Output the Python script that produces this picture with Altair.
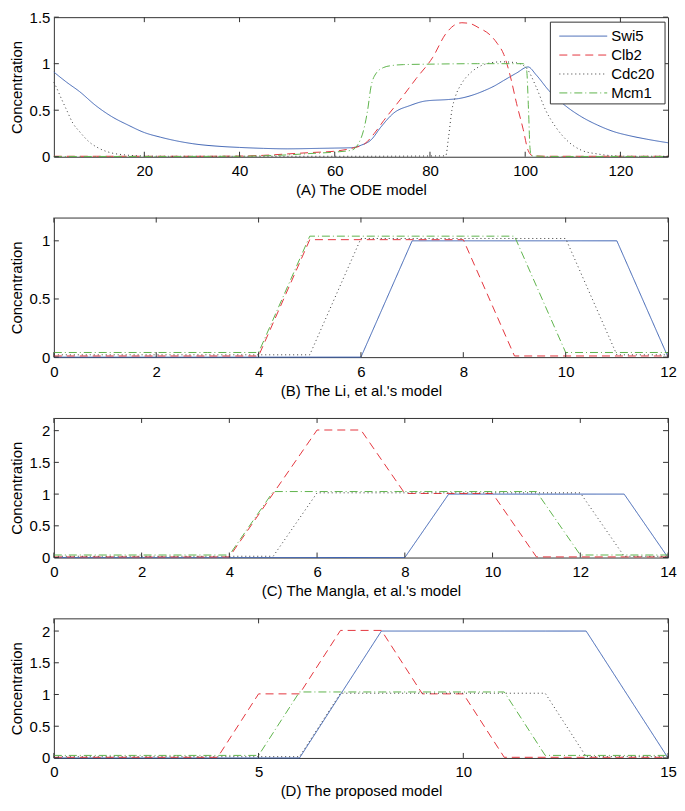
import altair as alt
import pandas as pd

FONT = "Liberation Sans"
BOX = "#333333"
W, H = 616, 140

SERIES = ["Swi5", "Clb2", "Cdc20", "Mcm1"]
COLORS = ["#3d62b3", "#e4363e", "#3a3a3a", "#5fb44c"]
DASHES = [[1, 0], [8, 5], [1, 3], [8, 3, 1, 3]]

# ---------------- (A) The ODE model ----------------
a_swi5_t = [1, 3.7, 6.4, 9.8, 13.2, 16.6, 20, 23.4, 26.8, 30.2, 36.3, 40, 45, 50, 56.7, 60, 63.5,
            65.6, 67.6, 69.7, 72.4, 75.8, 79.2, 83.9, 86, 89.4, 91.4, 93.5, 95.5, 98.2, 100.6,
            102.3, 105, 108.4, 111.8, 115.2, 118.6, 122, 125.4, 130]
a_swi5_v = [0.91, 0.80, 0.70, 0.55, 0.43, 0.34, 0.26, 0.21, 0.17, 0.14, 0.11, 0.10, 0.09, 0.085, 0.09,
            0.093, 0.097, 0.125, 0.18, 0.32, 0.47, 0.55, 0.60, 0.615, 0.625, 0.67, 0.71, 0.76, 0.82,
            0.90, 0.965, 0.88, 0.71, 0.55, 0.43, 0.34, 0.27, 0.225, 0.19, 0.15]

a_clb2_t = [1, 10, 20, 30, 40, 45, 50, 55, 60.1, 63.5, 66.3, 68.3, 70.3, 73.7, 77.1, 80.6, 83.3,
            85.3, 86.7, 88.5, 90.1, 92.8, 94.1, 95.5, 96.9, 98.2, 99.6, 100.6, 101.6, 105, 110, 120, 130]
a_clb2_v = [0.005, 0.005, 0.005, 0.005, 0.007, 0.015, 0.03, 0.045, 0.06, 0.09, 0.14, 0.25, 0.39, 0.61,
            0.84, 1.07, 1.32, 1.42, 1.44, 1.43, 1.39, 1.30, 1.22, 1.10, 0.86, 0.57, 0.29, 0.07, 0.01,
            0.005, 0.005, 0.005, 0.005]

a_cdc20_t = [1, 1.3, 2.7, 3.7, 5, 6.4, 8.4, 10.5, 13.2, 15.9, 18.6, 25, 40, 60, 80, 83.3, 83.9, 84.6,
             85.3, 86.7, 88.7, 90.8, 92.8, 95, 98.2, 100.3, 102.3, 104.3, 106.4, 109.1, 111.8, 115.2,
             118.6, 122, 130]
a_cdc20_v = [0.80, 0.77, 0.61, 0.50, 0.36, 0.27, 0.16, 0.09, 0.04, 0.02, 0.01, 0.005, 0.005, 0.005,
             0.008, 0.01, 0.21, 0.50, 0.64, 0.79, 0.91, 0.98, 1.01, 1.02, 1.01, 0.95, 0.75, 0.50, 0.32,
             0.16, 0.07, 0.03, 0.01, 0.005, 0.005]

a_mcm1_t = [1, 20, 40, 45, 50, 55, 60, 63.5, 65.6, 66.9, 67.6, 68.6, 70.3, 72, 74.4, 80, 90, 99.6,
            100.3, 100.7, 101.0, 101.3, 105, 130]
a_mcm1_v = [0.003, 0.003, 0.005, 0.01, 0.02, 0.035, 0.05, 0.07, 0.21, 0.50, 0.75, 0.89, 0.96, 0.98,
            0.99, 0.995, 1.0, 1.0, 0.93, 0.50, 0.10, 0.01, 0.003, 0.003]

# ---------------- (B) The Li, et al.'s model ----------------
b_t = list(range(0, 13))
b_swi5 = [0, 0, 0, 0, 0, 0, 0, 1, 1, 1, 1, 1, 0]
b_clb2 = [0.01, 0.01, 0.01, 0.01, 0.01, 1.01, 1.01, 1.01, 1.01, 0.01, 0.01, 0.01, 0.01]
b_cdc20 = [0.02, 0.02, 0.02, 0.02, 0.02, 0.02, 1.02, 1.02, 1.02, 1.02, 1.02, 0.02, 0.02]
b_mcm1 = [0.04, 0.04, 0.04, 0.04, 0.04, 1.04, 1.04, 1.04, 1.04, 1.04, 0.04, 0.04, 0.04]

# ---------------- (C) The Mangla, et al.'s model ----------------
c_t = list(range(0, 15))
c_swi5 = [0, 0, 0, 0, 0, 0, 0, 0, 0, 1, 1, 1, 1, 1, 0]
c_clb2 = [0.01, 0.01, 0.01, 0.01, 0.01, 1.01, 2.01, 2.01, 1.01, 1.01, 1.01, 0.01, 0.01, 0.01, 0.01]
c_cdc20 = [0.02, 0.02, 0.02, 0.02, 0.02, 0.02, 1.02, 1.02, 1.02, 1.02, 1.02, 1.02, 1.02, 0.02, 0.02]
c_mcm1 = [0.04, 0.04, 0.04, 0.04, 0.04, 1.04, 1.04, 1.04, 1.04, 1.04, 1.04, 1.04, 0.04, 0.04, 0.04]

# ---------------- (D) The proposed model ----------------
d_t = list(range(0, 16))
d_swi5 = [0, 0, 0, 0, 0, 0, 0, 1, 2, 2, 2, 2, 2, 2, 1, 0]
d_clb2 = [0.01, 0.01, 0.01, 0.01, 0.01, 1.01, 1.01, 2.01, 2.01, 1.01, 1.01, 0.01, 0.01, 0.01, 0.01, 0.01]
d_cdc20 = [0.02, 0.02, 0.02, 0.02, 0.02, 0.02, 0.02, 1.02, 1.02, 1.02, 1.02, 1.02, 1.02, 0.02, 0.02, 0.02]
d_mcm1 = [0.04, 0.04, 0.04, 0.04, 0.04, 0.04, 1.04, 1.04, 1.04, 1.04, 1.04, 1.04, 0.04, 0.04, 0.04, 0.04]


def long_df(pairs):
    rows = []
    for name, ts, vs in pairs:
        for t, v in zip(ts, vs):
            rows.append({"t": t, "v": v, "series": name})
    return pd.DataFrame(rows)


df_a = long_df([("Swi5", a_swi5_t, a_swi5_v), ("Clb2", a_clb2_t, a_clb2_v),
                ("Cdc20", a_cdc20_t, a_cdc20_v), ("Mcm1", a_mcm1_t, a_mcm1_v)])
df_b = long_df([("Swi5", b_t, b_swi5), ("Clb2", b_t, b_clb2), ("Cdc20", b_t, b_cdc20), ("Mcm1", b_t, b_mcm1)])
df_c = long_df([("Swi5", c_t, c_swi5), ("Clb2", c_t, c_clb2), ("Cdc20", c_t, c_cdc20), ("Mcm1", c_t, c_mcm1)])
df_d = long_df([("Swi5", d_t, d_swi5), ("Clb2", d_t, d_clb2), ("Cdc20", d_t, d_cdc20), ("Mcm1", d_t, d_mcm1)])

COLOR_SCALE = alt.Scale(domain=SERIES, range=COLORS)
DASH_SCALE = alt.Scale(domain=SERIES, range=DASHES)

# legend box geometry (pixels inside panel A's plot area)
LG_L, LG_R, LG_T, LG_B = W - 118, W - 3, 5, 87
LG_ROW0, LG_ROWH = 19, 19
LG_SYM0, LG_SYM1 = LG_L + 9, LG_L + 57


def legend_layers():
    ldf = pd.DataFrame({"series": SERIES})
    base = alt.Chart(ldf).transform_calculate(
        py=f"{LG_ROW0} + {LG_ROWH} * indexof({SERIES!r}, datum.series)"
    )
    box = alt.Chart(pd.DataFrame({"k": [0]})).mark_rect(
        fill="white", stroke=BOX, strokeWidth=1
    ).encode(x=alt.value(LG_L), x2=alt.value(LG_R), y=alt.value(LG_T), y2=alt.value(LG_B))
    sym = base.mark_rule(strokeWidth=1).encode(
        x=alt.value(LG_SYM0), x2=alt.value(LG_SYM1),
        y=alt.Y("py:Q", scale=None),
        color=alt.Color("series:N", scale=COLOR_SCALE, legend=None),
        strokeDash=alt.StrokeDash("series:N", scale=DASH_SCALE, legend=None),
    )
    txt = base.mark_text(align="left", baseline="middle", font=FONT, fontSize=15, color="black").encode(
        x=alt.value(LG_SYM1 + 4), y=alt.Y("py:Q", scale=None), text="series:N"
    )
    return [box, sym, txt]


def panel(df, xdom, xticks, ydom, yticks, caption, show_legend, interp):
    xs = alt.Scale(domain=xdom, nice=False, zero=False)
    ys = alt.Scale(domain=ydom, nice=False)
    xaxis = alt.Axis(values=xticks, title=caption, format="~r", labelFlush=False)
    yaxis = alt.Axis(values=yticks, title="Concentration", format="~r")
    lines = alt.Chart(df).mark_line(strokeWidth=1, interpolate=interp).encode(
        x=alt.X("t:Q", scale=xs, axis=xaxis),
        y=alt.Y("v:Q", scale=ys, axis=yaxis),
        color=alt.Color("series:N", scale=COLOR_SCALE, legend=None),
        strokeDash=alt.StrokeDash("series:N", scale=DASH_SCALE, legend=None),
    )
    xt = pd.DataFrame({"t": xticks})
    yt = pd.DataFrame({"v": yticks})
    rule = dict(color=BOX, strokeWidth=1)
    bx = alt.Chart(xt).mark_rule(**rule).encode(
        x=alt.X("t:Q", scale=xs, axis=xaxis), y=alt.value(H), y2=alt.value(H - 5))
    tx = alt.Chart(xt).mark_rule(**rule).encode(
        x=alt.X("t:Q", scale=xs, axis=xaxis), y=alt.value(0), y2=alt.value(5))
    ly = alt.Chart(yt).mark_rule(**rule).encode(
        y=alt.Y("v:Q", scale=ys, axis=yaxis), x=alt.value(0), x2=alt.value(5))
    ry = alt.Chart(yt).mark_rule(**rule).encode(
        y=alt.Y("v:Q", scale=ys, axis=yaxis), x=alt.value(W), x2=alt.value(W - 5))
    layers = [lines, bx, tx, ly, ry]
    if show_legend:
        layers += legend_layers()
    return alt.layer(*layers).properties(width=W, height=H)


pA = panel(df_a, [1, 130], [20, 40, 60, 80, 100, 120], [0, 1.5], [0, 0.5, 1, 1.5],
           "(A) The ODE model", True, "monotone")
pB = panel(df_b, [0, 12], [0, 2, 4, 6, 8, 10, 12], [0, 1.2], [0, 0.5, 1],
           "(B) The Li, et al.'s model", False, "linear")
pC = panel(df_c, [0, 14], [0, 2, 4, 6, 8, 10, 12, 14], [0, 2.2], [0, 0.5, 1, 1.5, 2],
           "(C) The Mangla, et al.'s model", False, "linear")
pD = panel(df_d, [0, 15], [0, 5, 10, 15], [0, 2.2], [0, 0.5, 1, 1.5, 2],
           "(D) The proposed model", False, "linear")

chart = (
    alt.vconcat(pA, pB, pC, pD, spacing=61, bounds="flush")
    .resolve_scale(x="independent", y="independent")
    .properties(padding={"left": 0, "top": 0, "right": 0, "bottom": 0})
    .configure(font=FONT)
    .configure_view(stroke=BOX, strokeWidth=1)
    .configure_axis(grid=False, domain=False, ticks=False, tickSize=0, labelFont=FONT,
                    labelFontSize=15, labelColor="black", titleFont=FONT, titleFontWeight="normal",
                    titleColor="black")
    .configure_axisX(labelPadding=7, titleFontSize=15, titlePadding=4)
    .configure_axisY(labelPadding=4, titleFontSize=15, titlePadding=5)
)

chart.save("out.html", embed_options={"renderer": "svg", "actions": False})
